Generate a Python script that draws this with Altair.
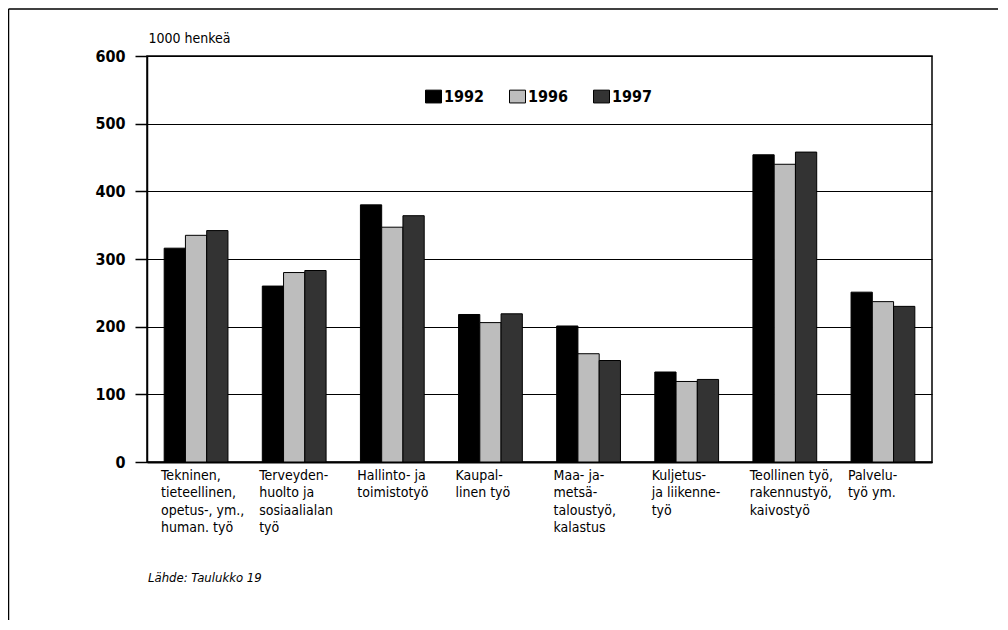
import altair as alt
import pandas as pd

categories = [
    "Tekninen,|tieteellinen,|opetus-, ym.,|human. työ",
    "Terveyden-|huolto ja|sosiaalialan|työ",
    "Hallinto- ja|toimistotyö",
    "Kaupal-|linen työ",
    "Maa- ja-|metsä-|taloustyö,|kalastus",
    "Kuljetus-|ja liikenne-|työ",
    "Teollinen työ,|rakennustyö,|kaivostyö",
    "Palvelu-|työ ym.",
]
years = ["1992", "1996", "1997"]
v1992 = [316, 260, 380, 218, 201, 133, 454, 251]
v1996 = [335, 280, 347, 206, 160, 119, 440, 237]
v1997 = [342, 283, 364, 219, 150, 122, 458, 230]
colors = ["#000000", "#bdbdbd", "#333333"]
y_ticks = [0, 100, 200, 300, 400, 500, 600]

rows = []
for i, c in enumerate(categories):
    for y, vals in zip(years, [v1992, v1996, v1997]):
        rows.append({"cat": c, "year": y, "value": vals[i]})
df = pd.DataFrame(rows)

FONT = "Liberation Sans Narrow, DejaVu Sans Condensed, Arial Narrow, sans-serif"
W, H = 785, 406

bars = alt.Chart(df).mark_bar(stroke="#000000", strokeWidth=1).encode(
    x=alt.X(
        "cat:N",
        sort=categories,
        scale=alt.Scale(paddingInner=0.35, paddingOuter=0.175),
        axis=alt.Axis(
            title=None,
            ticks=False,
            domainWidth=2,
            domainColor="#000000",
            labelExpr="split(datum.value, '|')",
            labelAlign="left",
            labelBaseline="top",
            labelOffset=-35,
            labelPadding=6,
            labelFont=FONT,
            labelFontSize=14,
            labelLineHeight=17.5,
            labelColor="#000000",
            labelLimit=300,
            labelAngle=0,
        ),
    ),
    xOffset=alt.XOffset("year:N", sort=years, scale=alt.Scale(paddingInner=0)),
    y=alt.Y(
        "value:Q",
        scale=alt.Scale(domain=[0, 600], nice=False),
        axis=alt.Axis(
            values=y_ticks,
            title="1000 henkeä",
            titleAngle=0,
            titleAlign="left",
            titleBaseline="alphabetic",
            titleX=1,
            titleY=-14,
            titleFont=FONT,
            titleFontSize=14,
            titleFontWeight="normal",
            titleColor="#000000",
            labelFont=FONT,
            labelFontSize=16,
            labelFontWeight="bold",
            labelColor="#000000",
            labelPadding=10,
            tickSize=12,
            tickColor="#000000",
            tickWidth=1.5,
            domainColor="#000000",
            domainWidth=1.5,
            grid=True,
            gridColor="#000000",
            gridWidth=1.2,
        ),
    ),
    color=alt.Color(
        "year:N",
        sort=years,
        scale=alt.Scale(domain=years, range=colors),
        legend=alt.Legend(
            title=None,
            orient="none",
            direction="horizontal",
            legendX=278,
            legendY=32,
            symbolType="M-1,-0.8H1V0.8H-1Z",
            symbolSize=256,
            symbolStrokeColor="#000000",
            symbolStrokeWidth=1,
            symbolOpacity=1,
            labelFont=FONT,
            labelFontSize=16,
            labelFontWeight="bold",
            labelColor="#000000",
            labelOffset=2,
            columnPadding=22,
        ),
    ),
)

source = alt.Chart(pd.DataFrame({"t": ["Lähde: Taulukko 19"]})).mark_text(
    align="left", baseline="middle", font=FONT, fontSize=13, fontStyle="italic", color="#000000"
).encode(text="t:N", x=alt.value(1), y=alt.value(H + 116))

frame_top = alt.Chart(pd.DataFrame({"a": [0]})).mark_rule(color="#000000", strokeWidth=1.5).encode(
    x=alt.value(-138.5), x2=alt.value(W + 66), y=alt.value(-47), y2=alt.value(-47)
)
frame_left = alt.Chart(pd.DataFrame({"a": [0]})).mark_rule(color="#000000", strokeWidth=1.5).encode(
    x=alt.value(-138.5), x2=alt.value(-138.5), y=alt.value(-47), y2=alt.value(H + 158)
)

chart = alt.layer(bars, source, frame_top, frame_left).properties(
    width=W,
    height=H,
    autosize=alt.AutoSizeParams(type="none"),
    padding={"left": 139, "top": 48, "right": 67, "bottom": 158},
    background="#ffffff",
).configure_view(stroke="#000000", strokeWidth=1.5)

chart.save("out.html", embed_options={"renderer": "svg", "actions": False})
